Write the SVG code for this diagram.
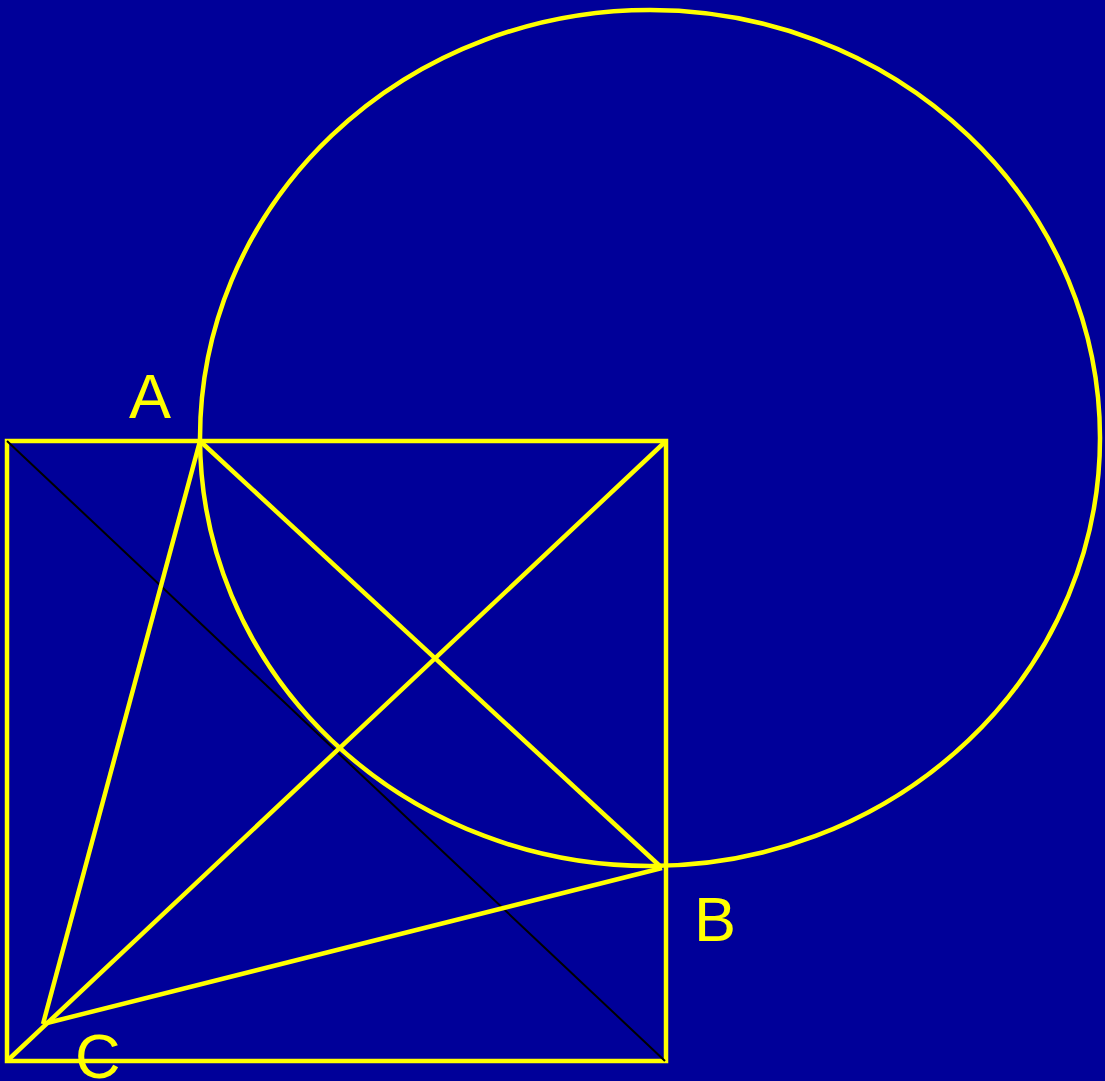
<svg xmlns="http://www.w3.org/2000/svg" width="1105" height="1081" viewBox="0 0 1105 1081">
<style>
.y{fill:none;stroke:#ffff00;stroke-width:4.5}
.lbl{fill:#ffff00;font-family:"Liberation Sans",Arial,sans-serif;font-size:63px}
</style>
<rect width="1105" height="1081" fill="#000099"/>
<g id="shapes">
<rect id="square" class="y" x="7" y="441" width="659" height="620"/>
<ellipse id="circle" class="y" cx="650" cy="438" rx="450" ry="428"/>
</g>
<g id="connectors">
<line x1="7" y1="441" x2="665" y2="1061" stroke="#000000" stroke-width="2"/>
<line class="y" x1="200" y1="441" x2="662" y2="868"/>
<line class="y" x1="200" y1="441" x2="43" y2="1024"/>
<line class="y" x1="43" y1="1024" x2="662" y2="868"/>
<line class="y" x1="7" y1="1061" x2="666" y2="441"/>
</g>
<g id="labels">
<text id="A" class="lbl" x="129" y="418">A</text>
<text id="B" class="lbl" x="694" y="941">B</text>
<text id="C" class="lbl" x="75" y="1078">C</text>
</g>
</svg>
